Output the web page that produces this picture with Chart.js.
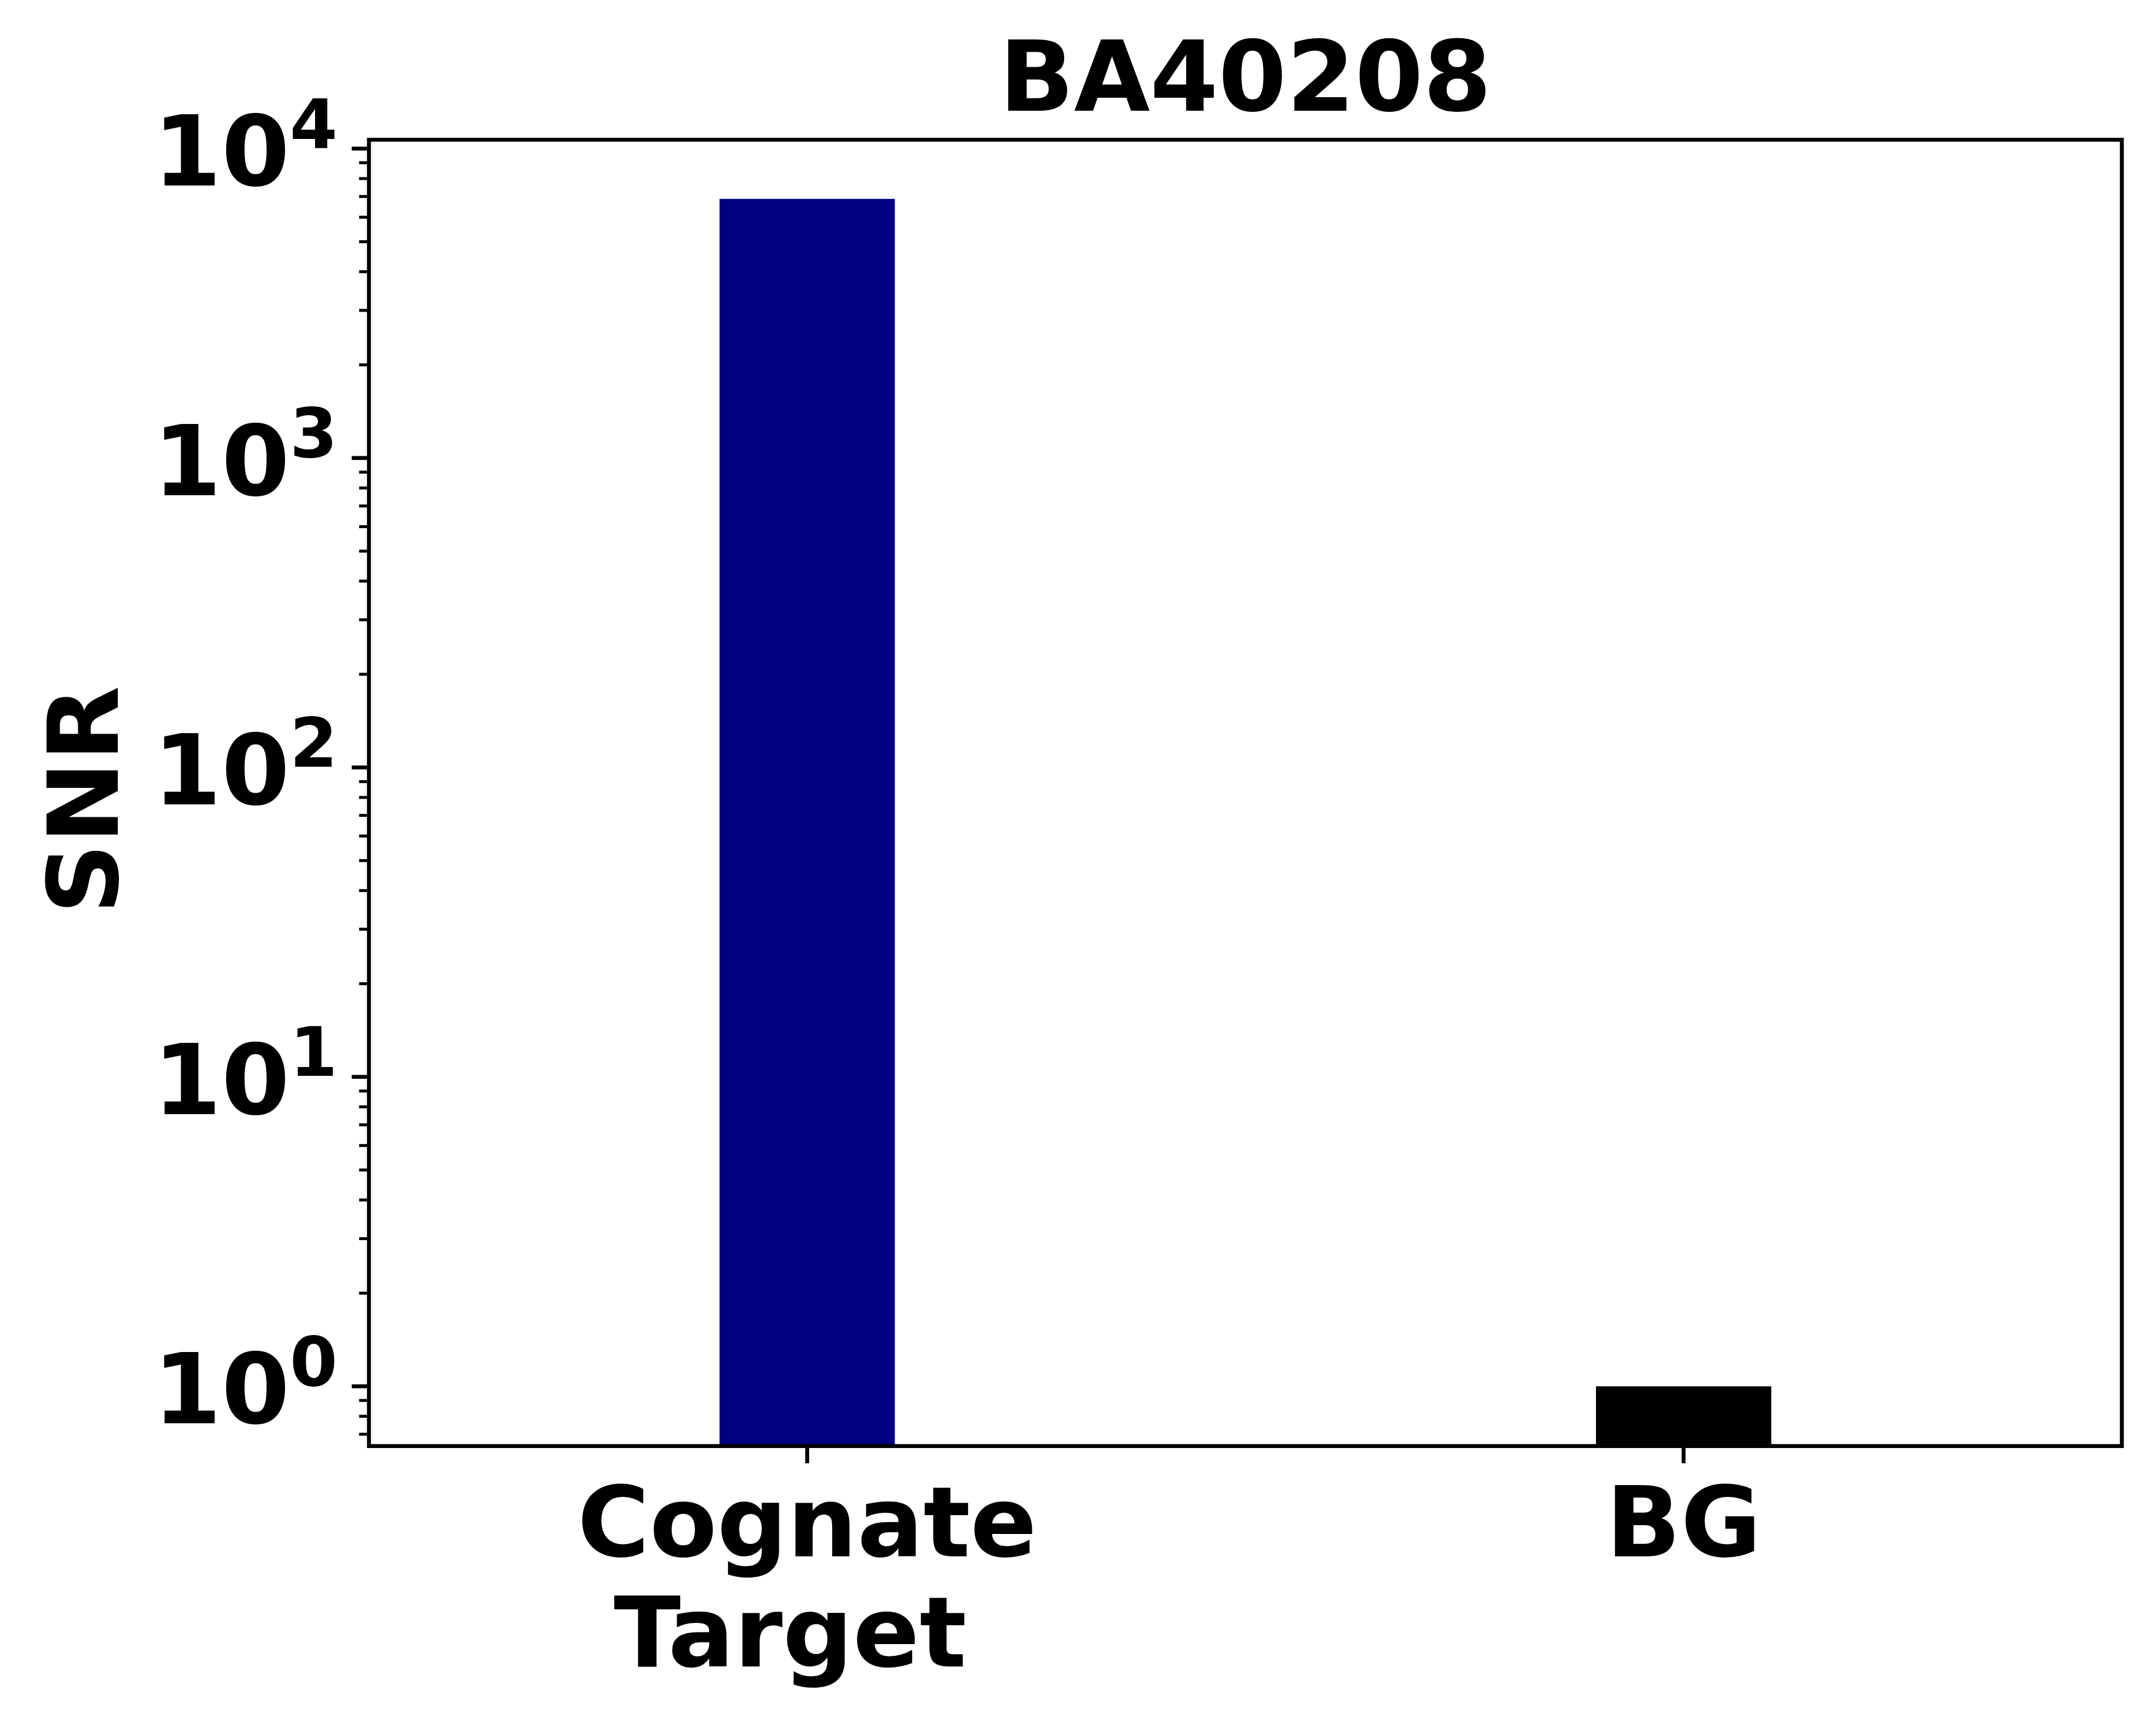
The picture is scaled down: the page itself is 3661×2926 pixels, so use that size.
<!DOCTYPE html>
<html>
<head>
<meta charset="utf-8">
<script src="https://cdn.jsdelivr.net/npm/chart.js@4.4.1/dist/chart.umd.min.js"></script>
<style>
  html, body { margin: 0; padding: 0; background: #fff; }
  canvas { display: block; }
</style>
</head>
<body>
<canvas id="snrChart" width="3661" height="2926"></canvas>
<script>
// chart values
const categories = [['Cognate', 'Target '], 'BG'];
const snrValues = [6880, 1.0];
const barColors = ['#000080', '#000000'];
const yTickExponents = [0, 1, 2, 3, 4];
const chartTitle = 'BA40208';
const yLabel = 'SNR';
const yMin = 0.641;
const yMax = 10680;

const FONT = '"DejaVu Sans", "Liberation Sans", sans-serif';
const FS = 166.7;          // 20pt at 600 dpi
const SUP = FS * 0.7;
const MAJOR_LEN = 29.2, MAJOR_W = 6.67;
const MINOR_LEN = 16.7, MINOR_W = 5;

// matplotlib-like spines, ticks and labels
const axesPlugin = {
    id: 'mplAxes',
    afterDraw(chart) {
        const { ctx, chartArea: a } = chart;
        const x = chart.scales.x, y = chart.scales.y;
        ctx.save();
        ctx.fillStyle = '#000';
        ctx.strokeStyle = '#000';
        ctx.lineCap = 'butt';

        // y minor ticks
        ctx.lineWidth = MINOR_W;
        for (let e = -1; e <= 4; e++) {
            for (let m = 2; m <= 9; m++) {
                const v = m * Math.pow(10, e);
                if (v < yMin || v > yMax) continue;
                const py = y.getPixelForValue(v);
                ctx.beginPath();
                ctx.moveTo(a.left, py);
                ctx.lineTo(a.left - MINOR_LEN, py);
                ctx.stroke();
            }
        }

        // y major ticks + labels 10^n
        ctx.lineWidth = MAJOR_W;
        yTickExponents.forEach(e => {
            const py = y.getPixelForValue(Math.pow(10, e));
            ctx.beginPath();
            ctx.moveTo(a.left, py);
            ctx.lineTo(a.left - MAJOR_LEN, py);
            ctx.stroke();

            const right = a.left - 2 * MAJOR_LEN + 5;
            ctx.textAlign = 'right';
            ctx.textBaseline = 'alphabetic';
            ctx.font = `bold ${SUP}px ${FONT}`;
            const supText = String(e);
            const supW = ctx.measureText(supText).width;
            ctx.fillText(supText, right, py - 1.5);
            ctx.font = `bold ${FS}px ${FONT}`;
            ctx.fillText('10', right - supW, py + 63);
        });

        // x ticks + labels
        categories.forEach((lab, i) => {
            const px = x.getPixelForValue(i);
            ctx.beginPath();
            ctx.moveTo(px, a.bottom);
            ctx.lineTo(px, a.bottom + MAJOR_LEN);
            ctx.stroke();
            const lines = Array.isArray(lab) ? lab : [lab];
            ctx.font = `bold ${FS}px ${FONT}`;
            ctx.textAlign = 'center';
            ctx.textBaseline = 'alphabetic';
            lines.forEach((t, j) => {
                ctx.fillText(t, px, a.bottom + 187 + j * 187);
            });
        });

        // spines
        ctx.lineWidth = MAJOR_W;
        ctx.lineJoin = 'miter';
        ctx.strokeRect(a.left, a.top, a.right - a.left, a.bottom - a.top);

        // title
        ctx.font = `bold ${FS}px ${FONT}`;
        ctx.textAlign = 'center';
        ctx.textBaseline = 'alphabetic';
        ctx.fillText(chartTitle, (a.left + a.right) / 2, a.top - 49);

        // y label
        ctx.translate(200, (a.top + a.bottom) / 2 + 12);
        ctx.rotate(-Math.PI / 2);
        ctx.fillText(yLabel, 0, 0);
        ctx.restore();
    }
};

const ctx = document.getElementById('snrChart').getContext('2d');
const snrChart = new Chart(ctx, {
    type: 'bar',
    data: {
        labels: categories,
        datasets: [{
            data: snrValues,
            backgroundColor: barColors,
            borderWidth: 0,
            barPercentage: 0.2,
            categoryPercentage: 1.0
        }]
    },
    options: {
        responsive: false,
        animation: false,
        devicePixelRatio: 1,
        layout: {
            padding: { left: 626.5, top: 237.3, right: 58, bottom: 470.3 }
        },
        plugins: {
            legend: { display: false },
            tooltip: { enabled: false },
            title: { display: false }
        },
        scales: {
            x: {
                type: 'category',
                offset: true,
                grid: { display: false },
                border: { display: false },
                ticks: { display: false },
                afterFit: s => { s.height = 0; }
            },
            y: {
                type: 'logarithmic',
                bounds: 'data',
                min: yMin,
                max: yMax,
                grid: { display: false },
                border: { display: false },
                ticks: { display: false },
                afterFit: s => { s.width = 0; }
            }
        }
    },
    plugins: [axesPlugin]
});
</script>
</body>
</html>
